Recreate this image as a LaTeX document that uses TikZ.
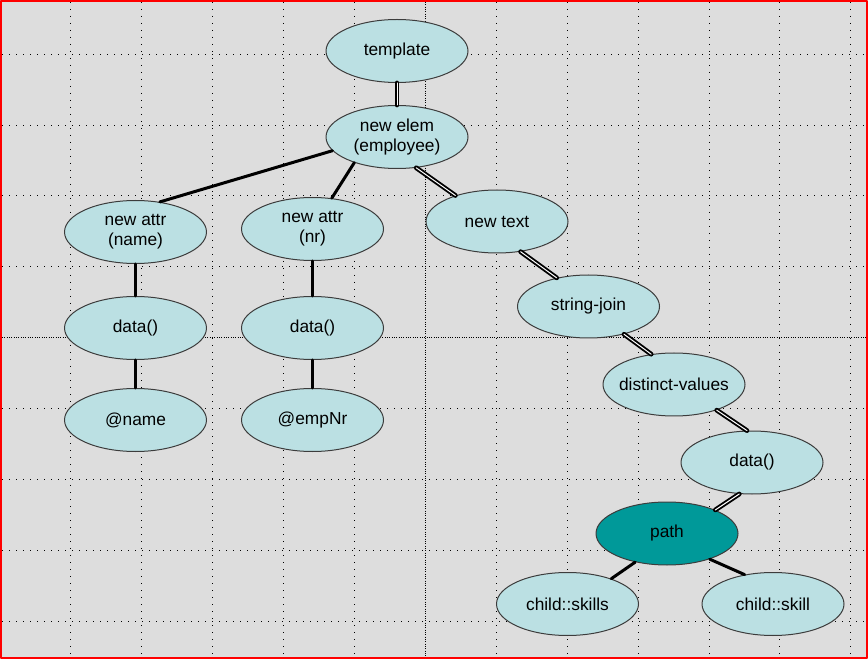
\documentclass[tikz,border=0pt]{standalone}
\usepackage{fontspec}
\setmainfont{Liberation Sans}
\usetikzlibrary{shapes.geometric}
\definecolor{bggrey}{HTML}{DDDDDD}
\definecolor{nodecyan}{HTML}{BBE0E3}
\definecolor{pathteal}{HTML}{009999}
\definecolor{ringgrey}{HTML}{3C3C3C}
\begin{document}
\begin{tikzpicture}[x=0.75pt, y=-0.75pt, font=\fontsize{13}{15}\selectfont, line join=round, line cap=round,
  op/.style={ellipse, draw=ringgrey, line width=0.75pt, fill=nodecyan, minimum width=106.5pt, minimum height=47.25pt, inner ysep=0pt, inner xsep=-10pt, align=center},
  hot/.style={op, fill=pathteal},
  edgeone/.style={line width=2.25pt},
  edgetwo/.style={double, double distance=0.75pt, line width=1.4pt},
  griddot/.style={line width=0.75pt, line cap=butt, dash pattern=on 0.75pt off 4.5pt},
  guidedot/.style={line width=0.75pt, line cap=butt, dash pattern=on 0.75pt off 1pt}]
\def\picw{868}\def\pich{659}
\useasboundingbox (0,0) rectangle (\picw,\pich);
\fill[bggrey] (0,0) rectangle (\picw,\pich);
\foreach \x in {1,...,12}\draw[griddot] (\x*70.9,2)--(\x*70.9,\pich-2);
\foreach \y in {0,...,8}\draw[griddot] (2,54.2+\y*70.85)--(\picw-2,54.2+\y*70.85);
\draw[guidedot] (425.7,2)--(425.7,\pich-2);
\draw[guidedot] (2,337.6)--(\picw-2,337.6);
\draw[red,line width=1.5pt] (1,1) rectangle (\picw-1,\pich-1);
% nodes
\node[op] (tpl) at (397,51) {template};
\node[op] (elem) at (397,137) {new elem\\(employee)};
\node[op] (attrname) at (135.5,232) {new attr\\(name)};
\node[op] (attrnr) at (312.5,229) {new attr\\(nr)};
\node[op] (txt) at (497,221.5) {new text};
\node[op] (dname) at (135.5,328) {data()};
\node[op] (dnr) at (312.5,328) {data()};
\node[op] (aname) at (135.5,420) {@name};
\node[op] (anr) at (312.5,420) {@empNr};
\node[op] (sjoin) at (588.5,306.5) {string-join};
\node[op] (dval) at (674,384.5) {distinct-values};
\node[op] (dtxt) at (752,462.5) {data()};
\node[hot] (path) at (667,533.5) {path};
\node[op] (skills) at (567.5,604) {child::skills};
\node[op] (skill) at (773,604) {child::skill};
% edges
\draw[edgetwo] (tpl)--(elem);
\draw[edgeone] (elem.192)--(attrname.51);
\draw[edgeone] (elem.211)--(attrnr.58);
\draw[edgetwo] (elem.302)--(txt.148);
\draw[edgeone] (attrname)--(dname);
\draw[edgeone] (dname)--(aname);
\draw[edgeone] (attrnr)--(dnr);
\draw[edgeone] (dnr)--(anr);
\draw[edgetwo] (txt.308)--(sjoin.138);
\draw[edgetwo] (sjoin.322)--(dval.127);
\draw[edgetwo] (dval.329)--(dtxt.99);
\draw[edgetwo] (dtxt.248)--(path.26);
\draw[edgeone] (path.222)--(skills.30);
\draw[edgeone] (path.329)--(skill.134);
\end{tikzpicture}
\end{document}
